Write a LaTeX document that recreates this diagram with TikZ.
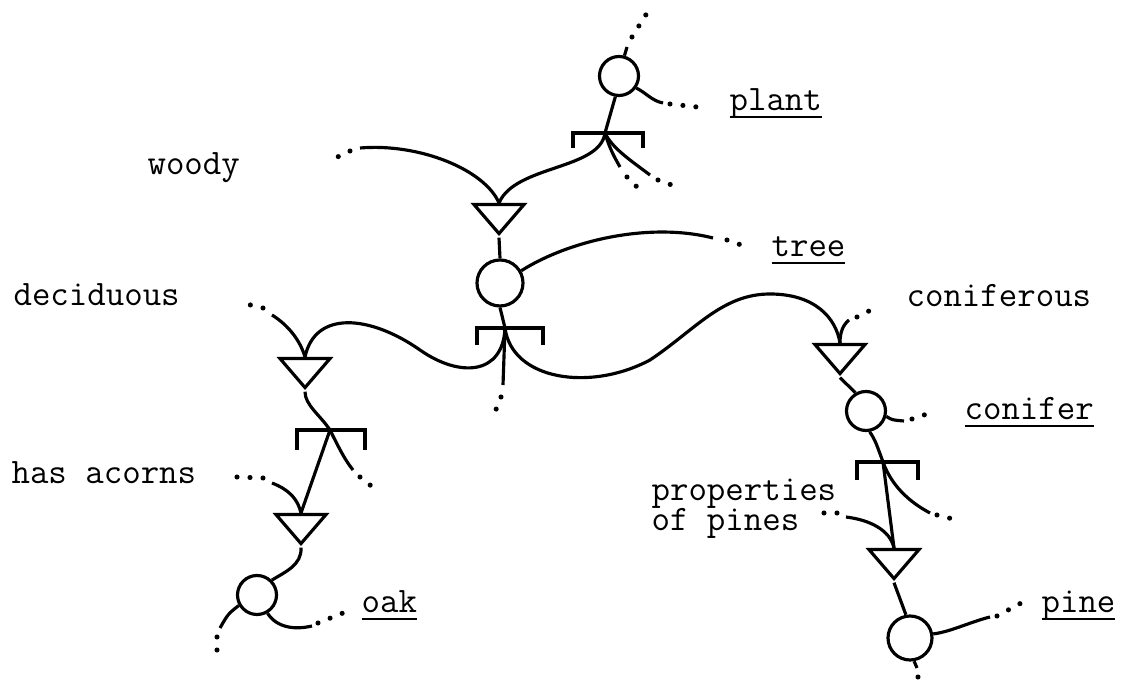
\documentclass[tikz,border=0pt]{standalone}
\usepackage{fontspec}
\usetikzlibrary{shapes.geometric}
\newcommand{\ulab}[1]{\setbox0\hbox{#1}\rlap{\rule[-4pt]{\wd0}{1.1pt}}\box0}
\begin{document}
\begin{tikzpicture}[x=0.02cm,y=-0.02cm,line width=1.8pt,
  circ/.style={draw,circle,inner sep=0pt,minimum size=0.78cm},
  tri/.style={draw,isosceles triangle,isosceles triangle stretches,shape border rotate=-90,
    inner sep=0pt,minimum width=1cm,minimum height=0.58cm,anchor=lower side},
  lab/.style={anchor=base west,inner sep=0pt,font=\ttfamily\fontsize{20.4}{17.6}\selectfont},
  dots/.style={line width=2.9pt,line cap=round,dash pattern=on 0pt off 7.4pt},
  bar/.style={line width=2pt}]
\useasboundingbox (0,0) rectangle (1123,688);
% concept nodes
\node[circ] (plant) at (619,76) {};
\node[circ,minimum size=0.92cm] (tree) at (500,283) {};
\node[circ] (oak) at (257,595) {};
\node[circ] (conifer) at (866,411) {};
\node[circ,minimum size=0.88cm] (pine) at (910,638) {};
% property nodes
\node[tri] (woody) at (499,203) {};
\node[tri] (decid) at (305,357) {};
\node[tri] (acorns) at (301,513) {};
\node[tri] (conif) at (840,343) {};
\node[tri] (pines) at (894,548) {};
% labels
\node[lab] (plantlab) at (728,111) {\ulab{plant}};
\node[lab] (woodylab) at (146,175) {woody};
\node[lab] (treelab) at (770,257) {\ulab{tree}};
\node[lab] (deciduouslab) at (12,306) {deciduous};
\node[lab] (coniferouslab) at (905,307) {coniferous};
\node[lab] (coniferlab) at (963,420) {\ulab{conifer}};
\node[lab] (acornslab) at (10,484) {has acorns};
\node[lab,align=left] (pineslab) at (650,531) {properties\\of pines};
\node[lab] (oaklab) at (360,613) {\ulab{oak}};
\node[lab] (pinelab) at (1040,613) {\ulab{pine}};
% bars
\coordinate (jplant) at (605,133);
\coordinate (jtree) at (505,328);
\coordinate (jdecid) at (330,430);
\coordinate (jconif) at (883,462);
\draw[bar] (jplant) ++(-32,15) -- ++(0,-15) -- ++(70,0) -- ++(0,15);
\draw[bar] (jtree) ++(-28,17) -- ++(0,-17) -- ++(66,0) -- ++(0,17);
\draw[bar] (jdecid) ++(-33,20) -- ++(0,-20) -- ++(68,0) -- ++(0,20);
\draw[bar] (jconif) ++(-26,18) -- ++(0,-18) -- ++(61,0) -- ++(0,18);
% plant
\coordinate (pu) at (627,47);
\draw (plant.75) -- (pu);
\draw[dots] (pu) ++(5,-10) -- ++(15,-24);
\coordinate (pr) at (663,103);
\draw (plant.-35) .. controls (645,92) and (652,101) .. (pr);
\draw[dots] (pr) ++(7,1) -- ++(27,3);
\draw (plant.-100) -- (jplant);
\draw (jplant) .. controls (600,170) and (515,165) .. (woody.lower side);
\coordinate (pa) at (620,167);
\draw (jplant) .. controls (610,150) and (615,158) .. (pa);
\draw[dots] (pa) ++(7,10) -- ++(15,15);
\coordinate (pb) at (650,175);
\draw (jplant) .. controls (612,148) and (630,160) .. (pb);
\draw[dots] (pb) ++(8,5) -- ++(22,8);
% woody
\coordinate (wd) at (360,148);
\draw[dots] (wd) ++(-10,3) -- ++(-23,11);
\draw (wd) .. controls (420,143) and (485,170) .. (woody.lower side);
\draw (woody.apex) -- (tree.north);
% tree
\coordinate (tr) at (713,238);
\draw (tree.30) .. controls (570,240) and (650,222) .. (tr);
\draw[dots] (tr) ++(14,2) -- ++(20,7);
\draw (tree.south) -- (jtree);
\coordinate (td) at (503,385);
\draw (jtree) -- (td);
\draw[dots] (td) ++(-2,12) -- ++(-8,20);
\draw (jtree) .. controls (503,375) and (460,378) .. (420,350)
  .. controls (370,315) and (315,310) .. (decid.lower side);
\draw (jtree) .. controls (512,380) and (590,392) .. (650,360)
  .. controls (695,330) and (722,294) .. (770,294)
  .. controls (815,294) and (836,318) .. (conif.lower side);
% deciduous
\coordinate (dd) at (272,315);
\draw[dots] (dd) ++(-9,-7) -- ++(-25,-6);
\draw (dd) .. controls (288,325) and (300,340) .. (decid.lower side);
\draw (decid.apex) .. controls (305,405) and (320,415) .. (jdecid);
\draw (jdecid) -- (acorns.lower side);
\coordinate (da) at (353,470);
\draw (jdecid) .. controls (340,450) and (345,460) .. (da);
\draw[dots] (da) ++(7,7) -- ++(15,12);
% has acorns
\coordinate (ha) at (272,483);
\draw[dots] (ha) ++(-9,-5) -- ++(-26,-1);
\draw (ha) .. controls (290,490) and (298,500) .. (acorns.lower side);
\draw (acorns.apex) .. controls (302,565) and (285,572) .. (oak.45);
% oak
\coordinate (ol) at (220,628);
\draw (oak.-150) .. controls (228,614) .. (ol);
\draw[dots] (ol) ++(-3,9) -- ++(0,23);
\coordinate (or) at (312,626);
\draw (oak.-60) .. controls (277,628) and (295,630) .. (or);
\draw[dots] (or) ++(6,-3) -- ++(25,-10);
% coniferous
\coordinate (cf) at (849,320);
\draw[dots] (cf) ++(8,-3) -- ++(20,-10);
\draw (cf) .. controls (843,325) and (840,332) .. (conif.lower side);
\draw (conif.apex) -- (conifer.120);
% conifer
\coordinate (cr) at (904,421);
\draw (conifer.-15) .. controls (892,420) .. (cr);
\draw[dots] (cr) ++(8,-2) -- ++(21,-7);
\draw (conifer.-80) .. controls (875,440) .. (jconif);
\draw (jconif) -- (pines.lower side);
\coordinate (ca) at (930,513);
\draw (jconif) .. controls (893,490) and (915,505) .. (ca);
\draw[dots] (ca) ++(7,2) -- ++(20,5);
% properties of pines
\coordinate (pp) at (846,517);
\draw[dots] (pp) ++(-9,-4) -- ++(-20,0);
\draw (pp) .. controls (870,520) and (890,530) .. (pines.lower side);
\draw (pines.apex) -- (pine.100);
% pine
\coordinate (pn) at (990,617);
\draw (pine.10) .. controls (950,632) and (970,622) .. (pn);
\draw[dots] (pn) ++(7,-1) -- ++(26,-14);
\coordinate (pd) at (917,668);
\draw (pine.-80) -- (pd);
\draw[dots] (pd) ++(1,9) -- ++(2,12);
\end{tikzpicture}
\end{document}
